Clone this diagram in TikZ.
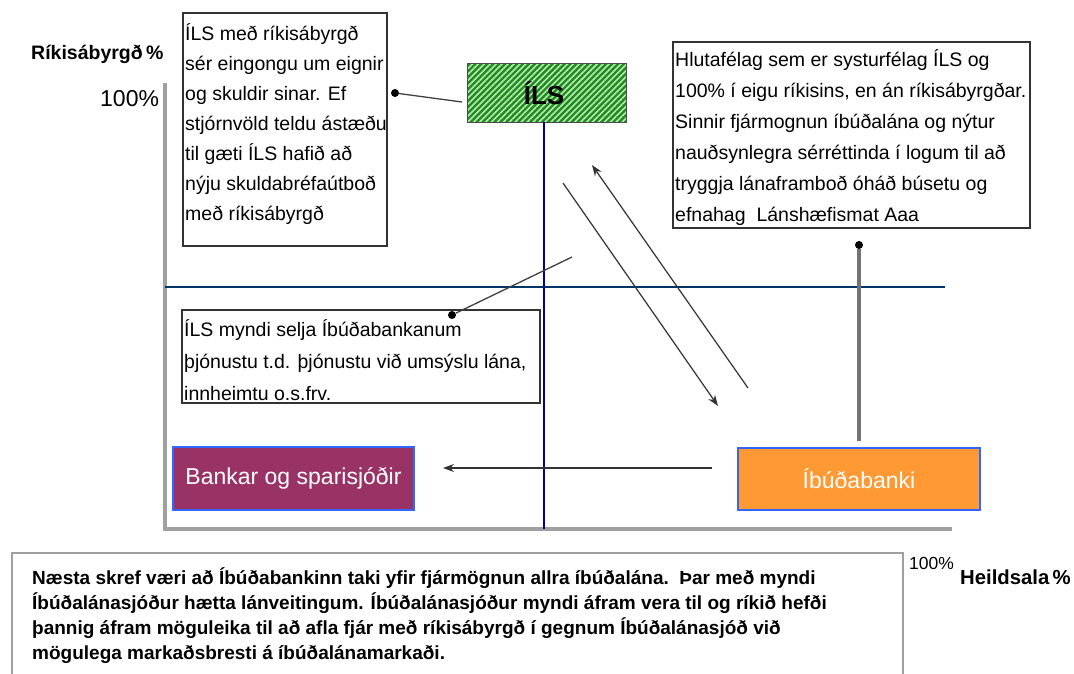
\documentclass[tikz,border=0pt]{standalone}
\usepackage{fontspec}
\setmainfont{Liberation Sans}
\usetikzlibrary{arrows.meta,patterns.meta}
\definecolor{navy}{HTML}{003366}
\definecolor{dblue}{HTML}{000099}
\definecolor{plum}{HTML}{993366}
\definecolor{orng}{HTML}{FF9933}
\definecolor{bblue}{HTML}{3366FF}
\definecolor{axisgray}{HTML}{A0A0A0}
\definecolor{hgreen}{HTML}{1E8C1E}
\definecolor{hlight}{HTML}{B8E8B0}
\tikzset{
  tbox/.style={draw=black!80, line width=1.5pt, fill=white, inner sep=0pt, outer sep=0pt, anchor=north west},
  txt/.style={anchor=north west, inner sep=0pt, align=left},
  colbox/.style={draw=bblue, line width=1.2pt, inner sep=0pt, text=white, font=\fontsize{23}{27}\selectfont},
  dotnode/.style={circle, fill=black, inner sep=0pt, minimum size=8pt},
  callout/.style={draw=black!75, line width=1.3pt},
  flow/.style={draw=black!80, line width=1.2pt, -{Stealth[length=11pt,width=8pt]}},
}
\begin{document}
\begin{tikzpicture}[x=1pt,y=-1pt]
\useasboundingbox (0,0) rectangle (1074,673);
\fill[white] (0,0) rectangle (1074,673);

% axes
\draw[axisgray, line width=4pt] (165,83) -- (165,529);
\draw[axisgray, line width=4pt] (163,529) -- (952,529);
\draw[navy, line width=2.5pt] (165,287) -- (945,287);

% axis labels
\node[anchor=base west, inner sep=0pt, font=\bfseries\fontsize{19.5}{22}\selectfont] (ylab) at (31,59) {Ríkisábyrgð\,\%};
\node[anchor=base west, inner sep=0pt, font=\fontsize{23}{26}\selectfont] (y100) at (100,106) {100\%};
\node[anchor=base west, inner sep=0pt, font=\fontsize{17.5}{20}\selectfont] (x100) at (909,569) {100\%};
\node[anchor=base west, inner sep=0pt, font=\bfseries\fontsize{20.3}{24}\selectfont] (xlab) at (960,584) {Heildsala\,\%};

% ILS box
\node[draw=black!70, line width=1pt, inner sep=0pt, minimum width=159pt, minimum height=59pt,
      preaction={fill=hgreen}, pattern={Lines[angle=45,distance=4.2pt,line width=1.6pt]}, pattern color=hlight] (ils) at (546.5,92.5) {};
\node[font=\bfseries\fontsize{26}{30}\selectfont, inner sep=0pt] (ilst) at (544,93) {ÍLS};
\coordinate (vtop) at (544,122);
\coordinate (vbot) at (544,529);
\draw[dblue, line width=1.5pt] (vtop) -- (vbot);

% left top box
\node[tbox, minimum width=204pt, minimum height=233pt] (lbox) at (183,13) {};
\node[txt, font=\fontsize{19.5}{30}\selectfont] (lboxt) at (185,19) {\strut ÍLS með ríkisábyrgð\\sér eingongu um eignir\\og skuldir sinar. Ef\\stjórnvöld teldu ástæðu\\til gæti ÍLS hafið að\\nýju skuldabréfaútboð\\með ríkisábyrgð};
\node[dotnode] (ldot) at (395,93) {};
\coordinate (ilsin) at (462,102);
\draw[callout] (ldot) -- (ilsin);

% right top box
\node[tbox, minimum width=357pt, minimum height=186pt] (rbox) at (673,42) {};
\node[txt, font=\fontsize{19.5}{31}\selectfont] (rboxt) at (675,45) {\strut Hlutafélag sem er systurfélag ÍLS og\\100\% í eigu ríkisins, en án ríkisábyrgðar.\\Sinnir fjármognun íbúðalána og nýtur\\nauðsynlegra sérréttinda í logum til að\\tryggja lánaframboð óháð búsetu og\\efnahag\ \ Lánshæfismat Aaa};
\node[dotnode] (rdot) at (859,245) {};

% middle box
\node[tbox, minimum width=358pt, minimum height=93pt] (mbox) at (182,310) {};
\node[txt, font=\fontsize{19.5}{32}\selectfont] (mboxt) at (184,314) {\strut ÍLS myndi selja Íbúðabankanum\\þjónustu t.d. þjónustu við umsýslu lána,\\innheimtu o.s.frv.};
\node[dotnode] (mdot) at (452,315) {};
\coordinate (mend) at (572,257);
\draw[callout] (mdot) -- (mend);

% coloured boxes
\node[colbox, fill=plum, minimum width=241pt, minimum height=63pt] (bank) at (293.5,478.5) {Bankar og sparisjóðir};
\node[colbox, fill=orng, minimum width=242pt, minimum height=62pt] (ibud) at (859,479) {Íbúðabanki};
\draw[draw=black!55, line width=3.5pt] (rdot) -- (ibud.north |- 0,441);

% arrows
\coordinate (a1s) at (563,183);
\coordinate (a1e) at (718,406);
\coordinate (a2s) at (748,388);
\coordinate (a2e) at (592,165);
\coordinate (a3s) at (712,468);
\coordinate (a3e) at (443,468);
\draw[flow] (a1s) -- (a1e);
\draw[flow] (a2s) -- (a2e);
\draw[flow] (a3s) -- (a3e);

% bottom text box
\draw[axisgray, line width=2.5pt] (12,680) -- (12,553) -- (903,553) -- (903,680);
\node[txt, font=\bfseries\fontsize{19}{25}\selectfont] (bott) at (32,567) {\strut Næsta skref væri að Íbúðabankinn taki yfir fjármögnun allra íbúðalána.\ \ Þar með myndi\\Íbúðalánasjóður hætta lánveitingum. Íbúðalánasjóður myndi áfram vera til og ríkið hefði\\þannig áfram möguleika til að afla fjár með ríkisábyrgð í gegnum Íbúðalánasjóð við\\mögulega markaðsbresti á íbúðalánamarkaði.};
\end{tikzpicture}
\end{document}
